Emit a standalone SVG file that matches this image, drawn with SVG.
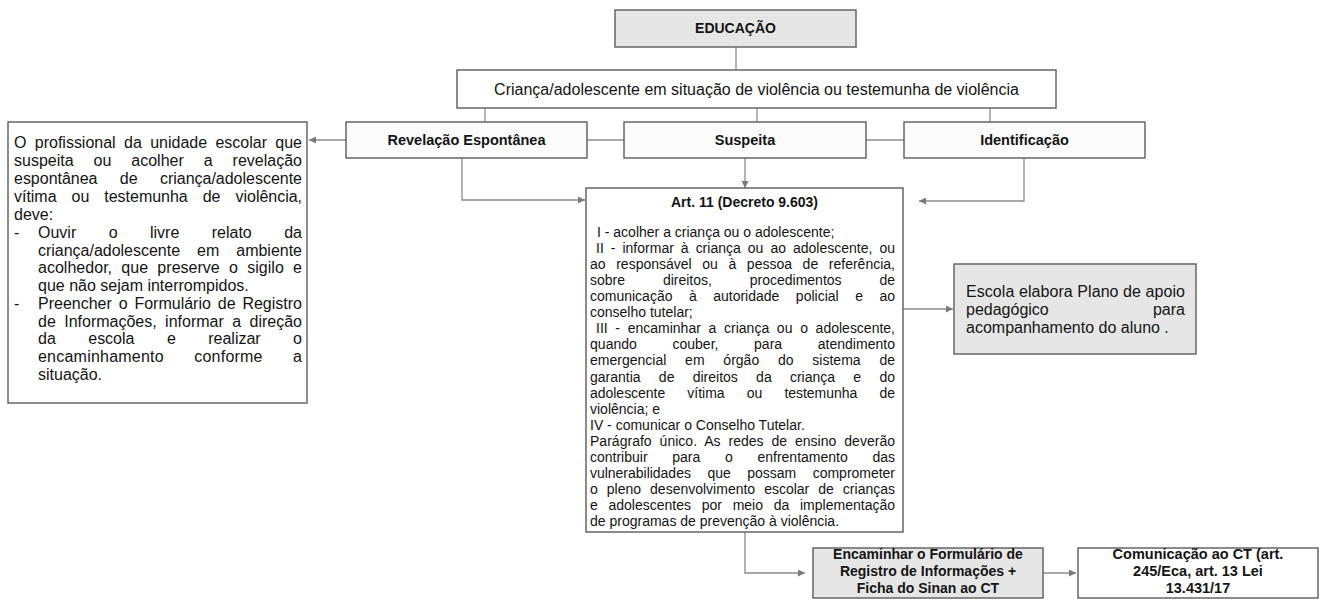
<svg xmlns="http://www.w3.org/2000/svg" width="1322" height="599" viewBox="0 0 1322 599">
<defs>
<marker id="ah" viewBox="0 0 10 10" refX="10" refY="5" markerWidth="8" markerHeight="7" markerUnits="userSpaceOnUse" orient="auto">
<path d="M0,0 L10,5 L0,10 z" fill="#7a7a7a"/>
</marker>
<style>
.box{fill:#ffffff;stroke:#666666;stroke-width:1.5}
.gray{fill:#e6e6e6;stroke:#666666;stroke-width:1.5}
.cat{fill:#fbfbfb;stroke:#666666;stroke-width:1.5}
.con{fill:none;stroke:#8c8c8c;stroke-width:1.3}
text{font-family:"Liberation Sans",Arial,sans-serif;fill:#141414}
.b{font-weight:bold}
.lt{font-size:16px}
.at{font-size:14px}
.et{font-size:16px}
.c{text-anchor:middle}
.e{text-anchor:end}
</style>
</defs>

<g id="connectors">
<path class="con" d="M736,47 V70"/>
<path class="con" d="M485,108 V122"/>
<path class="con" d="M757,108 V122"/>
<path class="con" d="M990,108 V122"/>
<path class="con" d="M587,140 H624"/>
<path class="con" d="M866,140 H904"/>
<path class="con" d="M346,140 H309" marker-end="url(#ah)"/>
<path class="con" d="M462,158 V200 H585" marker-end="url(#ah)"/>
<path class="con" d="M745,158 V188" marker-end="url(#ah)"/>
<path class="con" d="M1024,158 V201 H919" marker-end="url(#ah)"/>
<path class="con" d="M903,309 H953" marker-end="url(#ah)"/>
<path class="con" d="M745,532 V573 H805" marker-end="url(#ah)"/>
<path class="con" d="M1043,573 H1076" marker-end="url(#ah)"/>
</g>

<g id="educacao">
<rect class="gray" x="615" y="10" width="241" height="37"/>
<text class="b c" x="735.5" y="33" font-size="14">EDUCAÇÃO</text>
</g>

<g id="crianca">
<rect class="box" x="457" y="70" width="599" height="38"/>
<text class="c" x="756.5" y="94.5" font-size="16">Criança/adolescente em situação de violência ou testemunha de violência</text>
</g>

<g id="revelacao">
<rect class="cat" x="346" y="122" width="241" height="36"/>
<text class="b c" x="466.5" y="145" font-size="14.5">Revelação Espontânea</text>
</g>

<g id="suspeita">
<rect class="cat" x="624" y="122" width="242" height="36"/>
<text class="b c" x="745" y="145" font-size="14.5">Suspeita</text>
</g>

<g id="identificacao">
<rect class="cat" x="904" y="122" width="241" height="36"/>
<text class="b c" x="1024.5" y="145" font-size="14.5">Identificação</text>
</g>

<g id="profissional">
<rect class="box" x="8" y="122" width="299" height="281"/>
<text class="lt" x="14" y="148" word-spacing="3.9" textLength="288" lengthAdjust="spacing">O profissional da unidade escolar que</text>
<text class="lt" x="14" y="166" word-spacing="15.5" textLength="288" lengthAdjust="spacing">suspeita ou acolher a revelação</text>
<text class="lt" x="14" y="184" word-spacing="17.9" textLength="288" lengthAdjust="spacing">espontânea de criança/adolescente</text>
<text class="lt" x="14" y="202" word-spacing="10.6" textLength="288" lengthAdjust="spacing">vítima ou testemunha de violência,</text>
<text class="lt" x="14" y="220">deve:</text>
<text class="lt" x="14" y="238">-</text>
<text class="lt" x="38" y="238" word-spacing="28" textLength="264" lengthAdjust="spacing">Ouvir o livre relato da</text>
<text class="lt" x="38" y="256" word-spacing="12.6" textLength="264" lengthAdjust="spacing">criança/adolescente em ambiente</text>
<text class="lt" x="38" y="273" word-spacing="4.8" textLength="264" lengthAdjust="spacing">acolhedor, que preserve o sigilo e</text>
<text class="lt" x="38" y="291">que não sejam interrompidos.</text>
<text class="lt" x="14" y="309">-</text>
<text class="lt" x="38" y="309" word-spacing="2.4" textLength="264" lengthAdjust="spacing">Preencher o Formulário de Registro</text>
<text class="lt" x="38" y="327" word-spacing="4" textLength="264" lengthAdjust="spacing">de Informações, informar a direção</text>
<text class="lt" x="38" y="344" word-spacing="28" textLength="264" lengthAdjust="spacing">da escola e realizar o</text>
<text class="lt" x="38" y="362" word-spacing="25.7" textLength="264" lengthAdjust="spacing">encaminhamento conforme a</text>
<text class="lt" x="38" y="380">situação.</text>
</g>

<g id="art11">
<rect class="box" x="586" y="188" width="317" height="344"/>
<text class="b c" x="744.5" y="207" font-size="14">Art. 11 (Decreto 9.603)</text>
<text class="at" x="597" y="237">I - acolher a criança ou o adolescente;</text>
<text class="at" x="596" y="253" word-spacing="3.1" textLength="299" lengthAdjust="spacing">II - informar à criança ou ao adolescente, ou</text>
<text class="at" x="590" y="269" word-spacing="6.7" textLength="305" lengthAdjust="spacing">ao responsável ou à pessoa de referência,</text>
<text class="at" x="590" y="285" word-spacing="34" textLength="305" lengthAdjust="spacing">sobre direitos, procedimentos de</text>
<text class="at" x="590" y="301.2" word-spacing="12.6" textLength="305" lengthAdjust="spacing">comunicação à autoridade policial e ao</text>
<text class="at" x="590" y="317.3">conselho tutelar;</text>
<text class="at" x="596" y="333.3" word-spacing="3.8" textLength="299" lengthAdjust="spacing">III - encaminhar a criança ou o adolescente,</text>
<text class="at" x="590" y="349.4" word-spacing="31.6" textLength="305" lengthAdjust="spacing">quando couber, para atendimento</text>
<text class="at" x="590" y="365.4" word-spacing="14.9" textLength="305" lengthAdjust="spacing">emergencial em órgão do sistema de</text>
<text class="at" x="590" y="381.5" word-spacing="14.4" textLength="305" lengthAdjust="spacing">garantia de direitos da criança e do</text>
<text class="at" x="590" y="397.5" word-spacing="18.3" textLength="305" lengthAdjust="spacing">adolescente vítima ou testemunha de</text>
<text class="at" x="590" y="413.6">violência; e</text>
<text class="at" x="590" y="429.6">IV - comunicar o Conselho Tutelar.</text>
<text class="at" x="590" y="445.7" word-spacing="4" textLength="305" lengthAdjust="spacing">Parágrafo único. As redes de ensino deverão</text>
<text class="at" x="590" y="461.7" word-spacing="20.8" textLength="305" lengthAdjust="spacing">contribuir para o enfrentamento das</text>
<text class="at" x="590" y="477.8" word-spacing="12.7" textLength="305" lengthAdjust="spacing">vulnerabilidades que possam comprometer</text>
<text class="at" x="590" y="493.8" word-spacing="5.1" textLength="305" lengthAdjust="spacing">o pleno desenvolvimento escolar de crianças</text>
<text class="at" x="590" y="509.9" word-spacing="6.8" textLength="305" lengthAdjust="spacing">e adolescentes por meio da implementação</text>
<text class="at" x="590" y="526">de programas de prevenção à violência.</text>
</g>

<g id="escola">
<rect class="gray" x="954" y="264" width="242" height="90"/>
<text class="et" x="966" y="297" textLength="219" lengthAdjust="spacing">Escola elabora Plano de apoio</text>
<text class="et" x="966" y="315">pedagógico</text>
<text class="et e" x="1185" y="315">para</text>
<text class="et" x="966" y="333">acompanhamento do aluno .</text>
</g>

<g id="encaminhar">
<rect class="gray" x="813" y="548" width="230" height="50"/>
<text class="b c" x="928" y="559" font-size="14">Encaminhar o Formulário de</text>
<text class="b c" x="928" y="576" font-size="14">Registro de Informações +</text>
<text class="b c" x="928" y="593" font-size="14">Ficha do Sinan ao CT</text>
</g>

<g id="comunicacao">
<rect class="box" x="1078" y="548" width="240" height="50"/>
<text class="b c" x="1198" y="559" font-size="14.5">Comunicação ao CT (art.</text>
<text class="b c" x="1198" y="576" font-size="14.5">245/Eca, art. 13 Lei</text>
<text class="b c" x="1198" y="593" font-size="14.5">13.431/17</text>
</g>
</svg>
